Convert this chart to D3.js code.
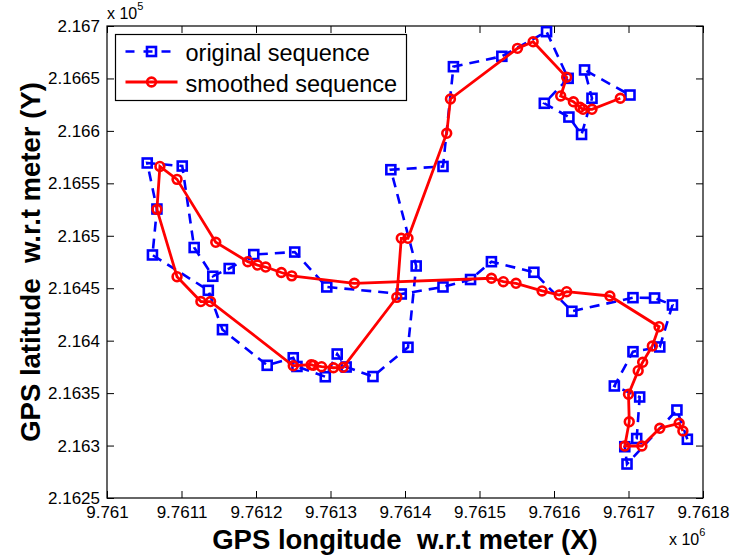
<!DOCTYPE html><head><meta charset = "utf-8">
<title>GPS smoothing</title>
<style type = "text/css">
body {
  margin: 0;
  background: white;
}
svg text {
  font-family: "Liberation Sans", Arial, sans-serif;
}
.lbl {
  font-weight: bold;
  font-size: 27.5px;
  white-space: pre;
}
</style>
<script type="text/javascript" src="https://cdn.jsdelivr.net/npm/d3@7"></script>
</head><body>
<div id="chart"></div>

<script type="text/javascript">

// GPS positions in meters, original (noisy) sequence
var origX = [9761779, 9761765, 9761698, 9761695, 9761711, 9761715, 9761681, 9761706, 9761742, 9761759,
  9761735, 9761706, 9761624, 9761573, 9761516, 9761488, 9761451, 9761395, 9761295, 9761252,
  9761197, 9761164, 9761142, 9761117, 9761101, 9761054, 9761067, 9761061, 9761136, 9761155,
  9761215, 9761250, 9761255, 9761293, 9761309, 9761321, 9761357, 9761404, 9761415, 9761381,
  9761451, 9761465, 9761530, 9761590, 9761619, 9761587, 9761620, 9761637, 9761651, 9761641,
  9761702];
var origY = [216306.0, 216333.9, 216282.4, 216298.9, 216306.7, 216346.3, 216356.8, 216389.5, 216394.0, 216434.0,
  216440.7, 216441.0, 216428.0, 216465.2, 216475.3, 216458.3, 216451.2, 216444.5, 216451.2, 216484.5,
  216482.1, 216468.8, 216461.4, 216488.8, 216566.5, 216569.4, 216525.5, 216481.7, 216448.0, 216410.5,
  216376.5, 216383.7, 216375.4, 216365.6, 216387.3, 216374.9, 216365.8, 216393.7, 216471.2, 216563.0,
  216566.1, 216661.2, 216671.1, 216694.6, 216650.1, 216626.3, 216613.2, 216596.6, 216631.1, 216658.1,
  216634.2];

// smoothed sequence
var smoothX = [9761773, 9761768, 9761742, 9761718, 9761695, 9761701, 9761700, 9761713, 9761719, 9761732,
  9761741, 9761675, 9761617, 9761607, 9761584, 9761549, 9761532, 9761516, 9761332, 9761248,
  9761234, 9761213, 9761202, 9761189, 9761146, 9761094, 9761071, 9761067, 9761094, 9761126,
  9761139, 9761250, 9761274, 9761277, 9761288, 9761304, 9761317, 9761389, 9761395, 9761404,
  9761456, 9761461, 9761551, 9761572, 9761617, 9761609, 9761626, 9761635, 9761639, 9761651,
  9761689];
var smoothY = [216313.9, 216321.2, 216316.5, 216299.6, 216299.6, 216322.7, 216348.9, 216371.4, 216379.4, 216394.9,
  216413.3, 216442.6, 216446.7, 216443.5, 216447.4, 216454.7, 216456.2, 216459.5, 216454.7, 216461.8,
  216465.0, 216470.2, 216472.1, 216475.3, 216493.8, 216553.8, 216566.1, 216525.2, 216461.0, 216437.3,
  216437.3, 216376.1, 216377.1, 216376.5, 216375.2, 216374.2, 216374.6, 216441.3, 216497.6, 216497.6,
  216597.7, 216630.4, 216678.7, 216685.0, 216651.1, 216633.3, 216627.8, 216622.5, 216620.6, 216620.6,
  216631.1];

var xTicks = [9761000, 9761100, 9761200, 9761300, 9761400, 9761500, 9761600, 9761700, 9761800];
var yTicks = [216250, 216300, 216350, 216400, 216450, 216500, 216550, 216600, 216650, 216700];

var legendNames = ["original sequence", "smoothed sequence"];

var W = 730, H = 557;
var margin = {left: 107, right: 27, top: 26, bottom: 59};

var svg = d3.select("#chart").append("svg")
  .attr("width", W).attr("height", H);
svg.append("rect").attr("width", W).attr("height", H).attr("fill", "white");

var x = d3.scaleLinear().domain([xTicks[0], xTicks[xTicks.length - 1]])
  .range([margin.left, W - margin.right]);
var y = d3.scaleLinear().domain([yTicks[0], yTicks[yTicks.length - 1]])
  .range([H - margin.bottom, margin.top]);

var fmtX = function(d) { return String(+(d / 1e6).toFixed(4)); };
var fmtY = function(d) { return String(+(d / 1e5).toFixed(4)); };

// axes, ticks point inwards like matlab
var gx = svg.append("g").attr("transform", "translate(0," + (H - margin.bottom) + ")")
  .call(d3.axisBottom(x).tickValues(xTicks).tickFormat(fmtX).tickSize(-7).tickPadding(8));
var gy = svg.append("g").attr("transform", "translate(" + margin.left + ",0)")
  .call(d3.axisLeft(y).tickValues(yTicks).tickFormat(fmtY).tickSize(-7).tickPadding(7));
var gxt = svg.append("g").attr("transform", "translate(0," + margin.top + ")")
  .call(d3.axisTop(x).tickValues(xTicks).tickFormat("").tickSize(-7));
var gyr = svg.append("g").attr("transform", "translate(" + (W - margin.right) + ",0)")
  .call(d3.axisRight(y).tickValues(yTicks).tickFormat("").tickSize(-7));

[gx, gy, gxt, gyr].forEach(function(g) {
  g.select(".domain").remove();
  g.selectAll("line").attr("stroke", "black").attr("stroke-width", 1);
  g.selectAll("text").attr("fill", "black").style("font-size", "17px")
    .style("font-family", '"Liberation Sans", Arial, sans-serif');
});

svg.append("rect")
  .attr("x", margin.left).attr("y", margin.top)
  .attr("width", W - margin.left - margin.right)
  .attr("height", H - margin.top - margin.bottom)
  .attr("fill", "none").attr("stroke", "black").attr("stroke-width", 1.2);

// exponent labels
var ex5 = svg.append("text").attr("x", margin.left).attr("y", 19).style("font-size", "16px");
ex5.append("tspan").text("x 10");
ex5.append("tspan").attr("dy", -9).style("font-size", "11px").text("5");
var ex6 = svg.append("text").attr("x", 669).attr("y", 545).style("font-size", "16px");
ex6.append("tspan").text("x 10");
ex6.append("tspan").attr("dy", -9).style("font-size", "11px").text("6");

// axis titles
svg.append("text").attr("class", "lbl")
  .attr("x", (margin.left + W - margin.right) / 2).attr("y", 549)
  .attr("text-anchor", "middle")
  .text("GPS longitude  w.r.t meter (X)");
svg.append("text").attr("class", "lbl")
  .attr("transform", "translate(40," + ((margin.top + H - margin.bottom) / 2) + ") rotate(-90)")
  .attr("text-anchor", "middle")
  .text("GPS latitude  w.r.t meter (Y)");

var orig = origX.map(function(d, i) { return [d, origY[i]]; });
var smooth = smoothX.map(function(d, i) { return [d, smoothY[i]]; });

var line = d3.line().x(function(d) { return x(d[0]); }).y(function(d) { return y(d[1]); });

svg.append("path").datum(orig).attr("d", line)
  .attr("fill", "none").attr("stroke", "#0000ff").attr("stroke-width", 2.6)
  .attr("stroke-dasharray", "10,7");
svg.selectAll("rect.sq").data(orig).join("rect").attr("class", "sq")
  .attr("x", function(d) { return x(d[0]) - 4.5; })
  .attr("y", function(d) { return y(d[1]) - 4.5; })
  .attr("width", 9).attr("height", 9)
  .attr("fill", "none").attr("stroke", "#0000ff").attr("stroke-width", 2.6);

svg.append("path").datum(smooth).attr("d", line)
  .attr("fill", "none").attr("stroke", "#ff0000").attr("stroke-width", 2.8);
svg.selectAll("circle.pt").data(smooth).join("circle").attr("class", "pt")
  .attr("cx", function(d) { return x(d[0]); })
  .attr("cy", function(d) { return y(d[1]); })
  .attr("r", 4.4)
  .attr("fill", "none").attr("stroke", "#ff0000").attr("stroke-width", 2.6);

// legend
var lg = svg.append("g").attr("transform", "translate(115.5,34.5)");
lg.append("rect").attr("width", 291).attr("height", 66)
  .attr("fill", "white").attr("stroke", "black").attr("stroke-width", 1.2);
lg.append("line").attr("x1", 10).attr("x2", 62).attr("y1", 17).attr("y2", 17)
  .attr("stroke", "#0000ff").attr("stroke-width", 2.6).attr("stroke-dasharray", "9,9");
lg.append("rect").attr("x", 31.5).attr("y", 12.5).attr("width", 9).attr("height", 9)
  .attr("fill", "none").attr("stroke", "#0000ff").attr("stroke-width", 2.6);
lg.append("line").attr("x1", 10).attr("x2", 62).attr("y1", 47.5).attr("y2", 47.5)
  .attr("stroke", "#ff0000").attr("stroke-width", 2.8);
lg.append("circle").attr("cx", 36).attr("cy", 47.5).attr("r", 4.4)
  .attr("fill", "none").attr("stroke", "#ff0000").attr("stroke-width", 2.6);
lg.selectAll("text.lt").data(legendNames).join("text").attr("class", "lt")
  .attr("x", 70).attr("y", function(d, i) { return 26 + i * 31; })
  .style("font-size", "23.5px")
  .text(function(d) { return d; });

</script>
</body></html>
